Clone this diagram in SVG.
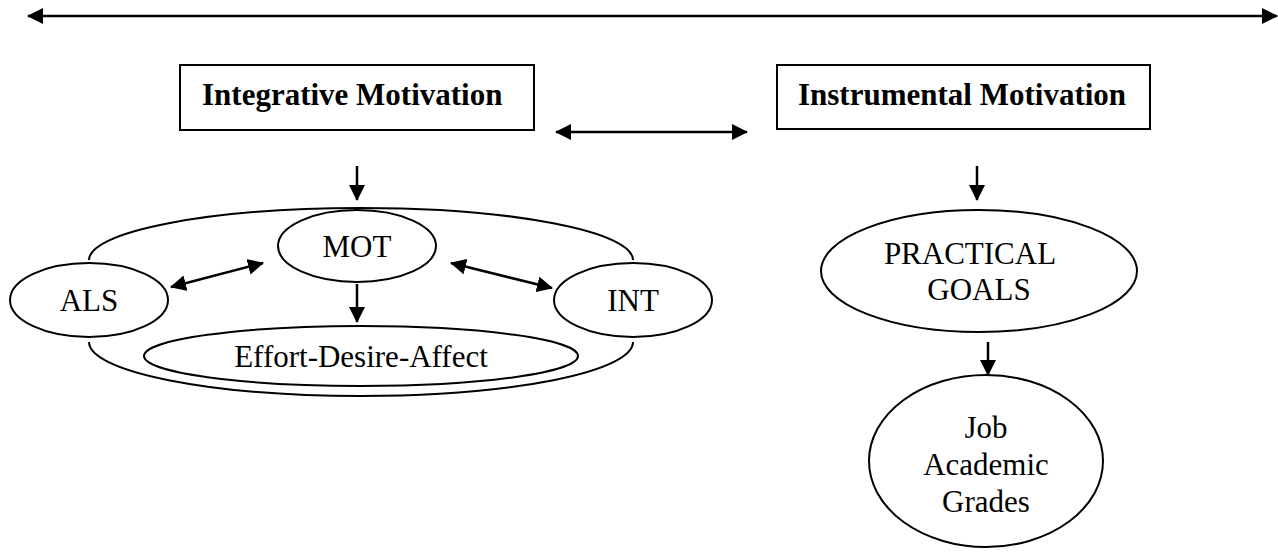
<svg xmlns="http://www.w3.org/2000/svg" width="1278" height="556" viewBox="0 0 1278 556">
<style>
.s{fill:none;stroke:#000;stroke-width:2}
.n{fill:#fff;stroke:#000;stroke-width:2}
.t{font-family:"Liberation Serif","Times New Roman",serif;font-size:31px;fill:#000;text-anchor:middle}
.b{font-weight:bold;text-anchor:start}
.c{fill:none;stroke:#000;stroke-width:2.5}
</style>
<defs>
<marker id="ah" viewBox="0 0 16 16" refX="15" refY="8" markerWidth="16" markerHeight="16" markerUnits="userSpaceOnUse" orient="auto-start-reverse">
<path d="M0,0 L16,8 L0,16 Z" fill="#000"/>
</marker>
</defs>
<rect width="1278" height="556" fill="#fff"/>
<g id="outer-loop">
<path class="s" d="M89,260 A272,52 0 0 1 633,260"/>
<path class="s" d="M89,342 A272,54 0 0 0 633,342"/>
</g>
<g id="integrative">
<rect class="n" x="180" y="65" width="354" height="65"/>
<text class="t b" x="202" y="105">Integrative Motivation</text>
</g>
<g id="instrumental">
<rect class="n" x="777" y="65" width="373" height="64"/>
<text class="t b" x="798" y="105">Instrumental Motivation</text>
</g>
<g id="mot">
<ellipse class="n" cx="357" cy="246" rx="79" ry="36"/>
<text class="t" x="357" y="257">MOT</text>
</g>
<g id="als">
<ellipse class="n" cx="89" cy="300" rx="79" ry="37"/>
<text class="t" x="89" y="311">ALS</text>
</g>
<g id="int">
<ellipse class="n" cx="633" cy="300" rx="79" ry="37"/>
<text class="t" x="633" y="311">INT</text>
</g>
<g id="effort">
<ellipse class="n" cx="361" cy="356" rx="217" ry="30"/>
<text class="t" x="361" y="367">Effort-Desire-Affect</text>
</g>
<g id="practical">
<ellipse class="n" cx="979" cy="271" rx="158" ry="61"/>
<text class="t" x="970" y="264">PRACTICAL</text>
<text class="t" x="979" y="300">GOALS</text>
</g>
<g id="job">
<ellipse class="n" cx="986" cy="461" rx="117" ry="86"/>
<text class="t" x="986" y="438">Job</text>
<text class="t" x="986" y="475">Academic</text>
<text class="t" x="986" y="512">Grades</text>
</g>
<g id="connectors">
<line class="c" x1="28" y1="16" x2="1277" y2="16" marker-start="url(#ah)" marker-end="url(#ah)"/>
<line class="c" x1="556" y1="132" x2="747" y2="132" marker-start="url(#ah)" marker-end="url(#ah)"/>
<line class="c" x1="357" y1="166" x2="357" y2="200" marker-end="url(#ah)"/>
<line class="c" x1="977" y1="166" x2="977" y2="200" marker-end="url(#ah)"/>
<line class="c" x1="357" y1="284" x2="357" y2="322" marker-end="url(#ah)"/>
<line class="c" x1="988" y1="342" x2="988" y2="375" marker-end="url(#ah)"/>
<line class="c" x1="171" y1="287" x2="263" y2="263" marker-start="url(#ah)" marker-end="url(#ah)"/>
<line class="c" x1="451" y1="263" x2="552" y2="288" marker-start="url(#ah)" marker-end="url(#ah)"/>
</g>
</svg>
